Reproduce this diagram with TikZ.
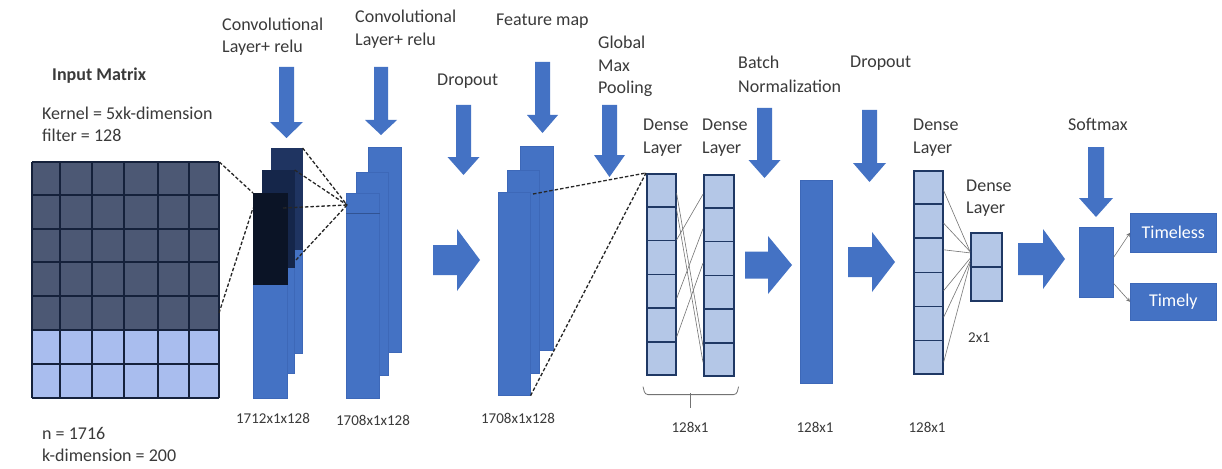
\documentclass[tikz,border=0pt]{standalone}
\usepackage{fontspec}
\setmainfont{Carlito}
\usetikzlibrary{calc,arrows.meta}
\definecolor{blu}{HTML}{4472C4}
\definecolor{blubd}{HTML}{3D68B8}
\definecolor{lblu}{HTML}{B4C7E7}
\definecolor{navy}{HTML}{1F3864}
\definecolor{slate}{HTML}{4C5874}
\definecolor{mlight}{HTML}{A9BDEE}
\definecolor{gridc}{HTML}{15213B}
\definecolor{txt}{HTML}{3A3A3A}
\definecolor{dka}{HTML}{1F3461}
\definecolor{dkb}{HTML}{15264A}
\definecolor{dkc}{HTML}{0B1426}
\newcommand{\blkdown}[6]{\fill[blu] ({#1-#5},#2) -- ({#1+#5},#2) -- ({#1+#5},#3) -- ({#1+#6},#3) -- (#1,#4) -- ({#1-#6},#3) -- ({#1-#5},#3) -- cycle;}
\newcommand{\blkright}[6]{\fill[blu] (#1,{#4-#5}) -- (#2,{#4-#5}) -- (#2,{#4-#6}) -- (#3,#4) -- (#2,{#4+#6}) -- (#2,{#4+#5}) -- (#1,{#4+#5}) -- cycle;}
\begin{document}
\begin{tikzpicture}[x=1pt,y=-1pt,
 lbl/.style={font=\fontsize{18}{22}\selectfont, text=txt, anchor=base west, inner sep=0pt},
 dimlbl/.style={font=\fontsize{15}{18}\selectfont, text=txt, anchor=base, inner sep=0pt},
 bar/.style={rectangle, fill=blu, draw=blubd, line width=0.6pt, inner sep=0pt, anchor=north west},
 dense/.style={rectangle, fill=lblu, draw=navy, line width=1.6pt, inner sep=0pt, anchor=north west},
 dsh/.style={draw=black!85, line width=1.3pt, dash pattern=on 3.5pt off 2pt},
 link/.style={draw=black!55, line width=0.6pt},
 outbox/.style={rectangle, fill=blu, draw=blubd, line width=0.6pt, inner sep=0pt, text=white, font=\fontsize{18}{22}\selectfont}
]
\useasboundingbox (0,0) rectangle (1222,468);
\fill[white] (0,0) rectangle (1222,468);

% ---------- Input matrix ----------
\node[inner sep=0pt, minimum width=187pt, minimum height=236pt, anchor=north west] (M) at (32,162) {};
\fill[slate] (32,162) rectangle (219,330);
\fill[mlight] (32,330) rectangle (219,398);
\foreach \x in {32,60,92,124,158,189,219} \draw[gridc, line width=1.8pt] (\x,162) -- (\x,398);
\foreach \y in {162,195,229,262,296,330,364,398} \draw[gridc, line width=1.8pt] (32,\y) -- (219,\y);
\coordinate (Mk) at (219,313);

\node[lbl, font=\bfseries\fontsize{18}{22}\selectfont] (tIn) at (52,81) {Input Matrix};
\node[lbl] (tKer) at (42,119) {Kernel = 5xk-dimension};
\node[lbl] (tFil) at (42,141) {filter = 128};
\node[lbl] (tN) at (42,439) {n = 1716};
\node[lbl] (tK) at (42,461) {k-dimension = 200};

% ---------- Conv layer 1 ----------
\node[bar, minimum width=31pt, minimum height=205pt] (C1a) at (271,148) {};
\fill[dka] (C1a.north west) rectangle ($(C1a.north east)+(0,102)$);
\node[bar, minimum width=32pt, minimum height=203pt] (C1b) at (262,170) {};
\fill[dkb] (C1b.north west) rectangle ($(C1b.north east)+(0,98)$);
\node[bar, minimum width=34pt, minimum height=205pt] (C1c) at (253,193) {};
\fill[dkc] (C1c.north west) rectangle ($(C1c.north east)+(0,92)$);
\coordinate (C1k) at (253,208);
\coordinate (C1m) at (283,208);
\coordinate (C1l) at (296,260);

\node[lbl] (tC1a) at (222,31) {Convolutional};
\node[lbl] (tC1b) at (222,53) {Layer+ relu};
\blkdown{286.5}{67}{122}{138}{7.5}{16.5}
\node[dimlbl] (dC1) at (273,423) {1712x1x128};

% ---------- Conv layer 2 ----------
\node[bar, minimum width=33pt, minimum height=205pt] (C2a) at (368,147) {};
\node[bar, minimum width=32pt, minimum height=203pt] (C2b) at (356,172) {};
\node[bar, minimum width=33pt, minimum height=205pt] (C2c) at (346,193) {};
\draw[blubd!80!black, line width=0.6pt] ($(C2c.north west)+(0,20)$) -- ($(C2c.north east)+(0,20)$);
\coordinate (C2k) at (347,205);

\node[lbl] (tC2a) at (355,23) {Convolutional};
\node[lbl] (tC2b) at (355,46) {Layer+ relu};
\blkdown{381}{67}{120}{135}{7}{16}
\node[dimlbl] (dC2) at (373,425) {1708x1x128};

% dashed connectors
\draw[dsh] (M.north east) -- (C1c.north west);
\draw[dsh] (Mk) -- (C1k);
\draw[dsh] (C1a.north east) -- (C2k);
\draw[dsh] (C1b.north east) -- (C2k);
\draw[dsh] (C1m) -- (C2k);
\draw[dsh] (C1l) -- (C2k);

% ---------- Dropout ----------
\node[lbl] (tDr1) at (437,86) {Dropout};
\blkdown{463.5}{105}{157}{175}{7.5}{16}
\blkright{433}{457}{480}{260}{15}{31}

% ---------- Feature map ----------
\node[bar, minimum width=33pt, minimum height=204pt] (F1) at (520,146) {};
\node[bar, minimum width=32pt, minimum height=203pt] (F2) at (507,170) {};
\node[bar, minimum width=32pt, minimum height=203pt] (F3) at (498,192) {};
\coordinate (Fk) at (533,194);
\node[lbl] (tFM) at (496,26) {Feature map};
\blkdown{542.5}{62}{115}{133}{7.5}{15.5}
\node[dimlbl] (dF) at (518,423) {1708x1x128};

% ---------- Global max pooling ----------
\node[lbl] (tGMPa) at (598,49) {Global};
\node[lbl] (tGMPb) at (598,72) {Max};
\node[lbl] (tGMPc) at (598,94) {Pooling};
\blkdown{609.5}{105}{155}{177}{7.5}{15.5}

% ---------- Dense layers 1,2 ----------
\node[dense, minimum width=29pt, minimum height=201pt] (D1) at (646,173) {};
\node[dense, minimum width=30pt, minimum height=201pt] (D2) at (703,174) {};
\foreach \i in {1,...,5} {
  \draw[navy, line width=1.6pt] ($(D1.north west)!\i/6!(D1.south west)$) -- ($(D1.north east)!\i/6!(D1.south east)$);
  \draw[navy, line width=1.6pt] ($(D2.north west)!\i/6!(D2.south west)$) -- ($(D2.north east)!\i/6!(D2.south east)$);
}
\foreach \a/\b in {0.10/0.85, 0.18/0.93, 0.33/0.10, 0.62/0.27, 0.81/0.44}
  \draw[link] ($(D1.north east)!\a!(D1.south east)$) -- ($(D2.north west)!\b!(D2.south west)$);
\draw[dsh] (Fk) -- (D1.north west);
\draw[dsh] (F3.south east) -- (D1.north west);
\node[lbl] (tD1a) at (643,131) {Dense};
\node[lbl] (tD1b) at (643,153) {Layer};
\node[lbl] (tD2a) at (702,131) {Dense};
\node[lbl] (tD2b) at (702,153) {Layer};
\draw[black!55, line width=0.8pt, rounded corners=3pt] ($(D1.south west)+(-3,11)$) -- ($(D1.south west)+(-1,19)$) -- ($(D2.south east)+(2,18)$) -- ($(D2.south east)+(4,10)$);
\draw[black!55, line width=0.8pt] (690,393) -- (690,408);
\node[dimlbl] (dD12) at (690,432) {128x1};

% ---------- Batch normalization ----------
\node[lbl] (tBNa) at (738,69) {Batch};
\node[lbl] (tBNb) at (738,93) {Normalization};
\blkdown{764.5}{108}{160}{178}{7.5}{16}
\blkright{745}{768}{792}{265}{13.5}{29}
\node[bar, minimum width=32pt, minimum height=203pt] (BN) at (800,180) {};
\node[dimlbl] (dBN) at (815,432) {128x1};

% ---------- Dropout 2 ----------
\node[lbl] (tDr2) at (850,68) {Dropout};
\blkdown{869.5}{110}{163}{182}{7.5}{16.5}
\blkright{848}{872}{895}{262}{15}{30}

% ---------- Dense layers 3,4 ----------
\node[dense, minimum width=29pt, minimum height=203pt] (D3) at (913,170) {};
\foreach \i in {1,...,5}
  \draw[navy, line width=1.6pt] ($(D3.north west)!\i/6!(D3.south west)$) -- ($(D3.north east)!\i/6!(D3.south east)$);
\node[dense, minimum width=31pt, minimum height=68pt] (D4) at (970,232) {};
\draw[navy, line width=1.6pt] (D4.west) -- (D4.east);
\foreach \a/\b in {0.10/0.28, 0.26/0.28, 0.39/0.30, 0.59/0.38, 0.72/0.42, 0.94/0.45}
  \draw[link] ($(D3.north east)!\a!(D3.south east)$) -- ($(D4.north west)!\b!(D4.south west)$);
\node[lbl] (tD3a) at (913,131) {Dense};
\node[lbl] (tD3b) at (913,153) {Layer};
\node[lbl] (tD4a) at (966,191) {Dense};
\node[lbl] (tD4b) at (966,213) {Layer};
\node[dimlbl] (dD3) at (927,432) {128x1};
\node[dimlbl] (dD4) at (979,342) {2x1};

% ---------- Softmax and outputs ----------
\blkright{1018}{1043}{1065}{259}{16}{30}
\node[lbl] (tSM) at (1068,131) {Softmax};
\blkdown{1096}{147}{198}{217}{8}{17}
\node[bar, minimum width=34pt, minimum height=70pt] (SM) at (1079,227) {};
\node[outbox, minimum width=86pt, minimum height=39pt, anchor=north west] (T1) at (1130,213) {Timeless};
\node[outbox, minimum width=86pt, minimum height=37pt, anchor=north west] (T2) at (1130,283) {Timely};
\draw[link, -{Stealth[length=4pt,width=4pt]}] ($(SM.north east)!0.43!(SM.south east)$) -- (T1.west);
\draw[link, -{Stealth[length=4pt,width=4pt]}] ($(SM.north east)!0.80!(SM.south east)$) -- (T2.west);
\end{tikzpicture}
\end{document}
